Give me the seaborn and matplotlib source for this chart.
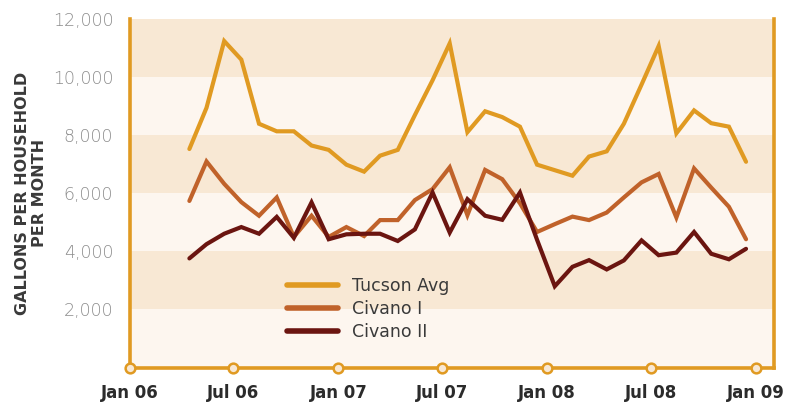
import numpy as np
import pandas as pd
import seaborn as sns
import matplotlib.pyplot as plt
import matplotlib.dates as mdates

# --- DATA (gallons per household per month, Apr 2006 - Dec 2008) ---
months = pd.date_range("2006-04-01", "2008-12-01", freq="MS") + pd.Timedelta(days=14)

tucson_avg = [7530, 8950, 11250, 10610, 8400, 8140, 8140, 7650, 7500, 6990, 6750,
              7300, 7500, 8700, 9900, 11170, 8110, 8830, 8630, 8300, 6990, 6800,
              6610, 7270, 7450, 8400, 9750, 11080, 8070, 8860, 8420, 8300, 7090]
civano_1 = [5740, 7100, 6330, 5700, 5230, 5860, 4500, 5230, 4500, 4840, 4530,
            5080, 5080, 5770, 6150, 6900, 5250, 6810, 6490, 5660, 4670, 4940,
            5200, 5080, 5340, 5860, 6380, 6670, 5170, 6860, 6200, 5540, 4420]
civano_2 = [3760, 4250, 4610, 4840, 4610, 5190, 4470, 5690, 4420, 4590, 4610,
            4610, 4360, 4760, 6030, 4650, 5800, 5230, 5090, 6030, 4400, 2800,
            3470, 3700, 3380, 3690, 4380, 3870, 3960, 4670, 3920, 3730, 4090]

series_names = ["Tucson Avg", "Civano I", "Civano II"]
tick_labels = ["Jan 06", "Jul 06", "Jan 07", "Jul 07", "Jan 08", "Jul 08", "Jan 09"]
tick_dates = pd.to_datetime(["2006-01-01", "2006-07-01", "2007-01-01", "2007-07-01",
                             "2008-01-01", "2008-07-01", "2009-01-01"])
y_ticks = [2000, 4000, 6000, 8000, 10000, 12000]

# --- STYLE ---
GOLD = "#e09a22"
RUST = "#c0622a"
MAROON = "#6b1510"
BAND_DARK = "#f8e8d4"
BAND_LIGHT = "#fdf6ef"

df = pd.DataFrame({"month": months, "Tucson Avg": tucson_avg,
                   "Civano I": civano_1, "Civano II": civano_2})
long = df.melt(id_vars="month", var_name="series", value_name="gallons")

sns.set_theme(style="white")
plt.rcParams["font.family"] = ["DejaVu Sans"]

fig = plt.figure(figsize=(7.91, 4.03), dpi=100)
ax = fig.add_axes([130 / 791, 1 - 367.5 / 403, 644 / 791, (367.5 - 19.3) / 403])

# alternating horizontal bands
for i, lo in enumerate(range(0, 12000, 2000)):
    ax.axhspan(lo, lo + 2000, color=BAND_DARK if i % 2 == 1 else BAND_LIGHT, lw=0, zorder=0)

sns.lineplot(data=long, x="month", y="gallons", hue="series", hue_order=series_names,
             palette=[GOLD, RUST, MAROON], linewidth=3.0, ax=ax, zorder=3,
             solid_capstyle="round", solid_joinstyle="miter")

ax.set_xlim(pd.Timestamp("2006-01-01"), pd.Timestamp("2009-02-02"))
ax.set_ylim(0, 12000)

ax.set_yticks(y_ticks)
ax.set_yticklabels([f"{v:,}" for v in y_ticks], color="#8c8c8c", fontsize=12.5,
                   fontweight="light")
ax.set_xticks(tick_dates)
ax.set_xticklabels(tick_labels, color="#2b2b2b", fontsize=12, fontweight="bold")
ax.tick_params(axis="y", length=0, pad=12)
ax.tick_params(axis="x", length=0, pad=12)

ax.set_xlabel("")
ax.set_ylabel("GALLONS PER HOUSEHOLD\nPER MONTH", color="#3a3a3a", fontsize=11.5,
              fontweight="semibold", linespacing=1.15, labelpad=4)

for side in ["left", "right", "bottom"]:
    ax.spines[side].set_color(GOLD)
    ax.spines[side].set_linewidth(2.6)
ax.spines["top"].set_visible(False)

# circle markers on the bottom axis at each tick
ax.plot(tick_dates, [0] * len(tick_dates), linestyle="none", marker="o", markersize=7,
        markerfacecolor=BAND_DARK, markeredgecolor=GOLD, markeredgewidth=1.8,
        clip_on=False, zorder=5)

leg = ax.legend(loc="upper left", bbox_to_anchor=(0.22, 0.305), frameon=False,
                fontsize=12.5, handlelength=2.9, handletextpad=0.8, labelspacing=0.3)
for txt in leg.get_texts():
    txt.set_color("#3a3a3a")
for line in leg.get_lines():
    line.set_linewidth(4)

fig.savefig("out.png", dpi=100)
